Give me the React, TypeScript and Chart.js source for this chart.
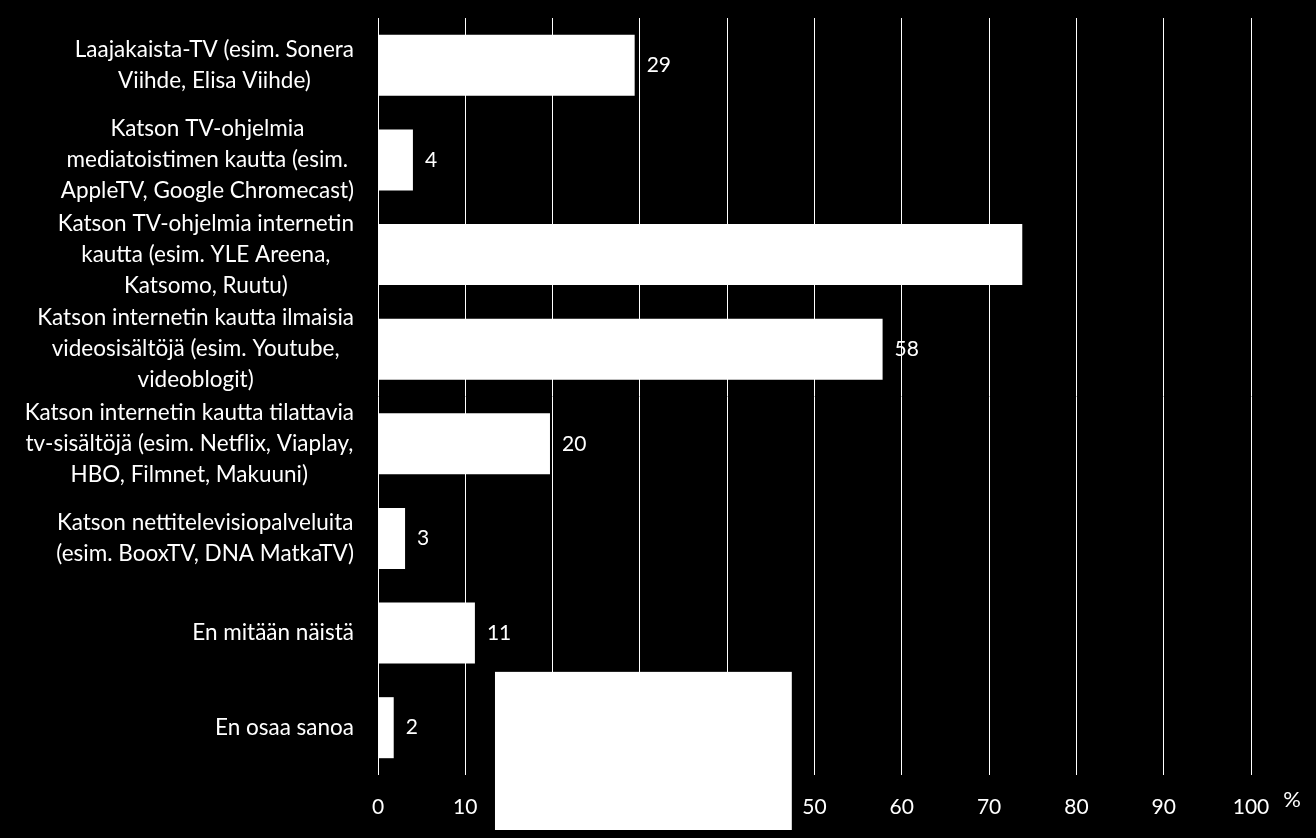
import React, { useEffect, useRef } from "react";
import { Chart, registerables } from "chart.js";

Chart.register(...registerables);

const categories: string[][] = [
  ["Laajakaista-TV (esim. Sonera", "Viihde, Elisa Viihde)"],
  ["Katson TV-ohjelmia", "mediatoistimen kautta (esim.", "AppleTV, Google Chromecast)"],
  ["Katson TV-ohjelmia internetin", "kautta (esim. YLE Areena,", "Katsomo, Ruutu)"],
  ["Katson internetin kautta ilmaisia", "videosisältöjä (esim. Youtube,", "videoblogit)"],
  ["Katson internetin kautta tilattavia", "tv-sisältöjä (esim. Netflix, Viaplay,", "HBO, Filmnet, Makuuni)"],
  ["Katson nettitelevisiopalveluita", "(esim. BooxTV, DNA MatkaTV)"],
  ["En mitään näistä"],
  ["En osaa sanoa"],
];
const values: number[] = [29.4, 4.0, 73.8, 57.8, 19.7, 3.1, 11.1, 1.8];
const valueLabels: (string | null)[] = ["29", "4", null, "58", "20", "3", "11", "2"];
const xTicks: number[] = [0, 10, 20, 30, 40, 50, 60, 70, 80, 90, 100];
const unitLabel = "%";

const FONT = "Lato";

const overlayPlugin = {
  id: "overlay",
  afterDraw(chart: any) {
    const ctx = chart.ctx;
    const area = chart.chartArea;
    const yScale = chart.scales.y;
    const xScale = chart.scales.x;
    ctx.save();
    ctx.fillStyle = "#ffffff";
    ctx.textBaseline = "middle";
    // category labels: block right-aligned, lines centered within block
    ctx.font = `22.5px ${FONT}`;
    const lineH = 31;
    categories.forEach((lines, i) => {
      const cy = yScale.getPixelForValue(i);
      let widest = 0;
      lines.forEach((l) => {
        widest = Math.max(widest, ctx.measureText(l).width);
      });
      const right = area.left - 24;
      const cx = right - widest / 2;
      ctx.textAlign = "center";
      lines.forEach((l, k) => {
        ctx.fillText(l, cx, cy + (k - (lines.length - 1) / 2) * lineH);
      });
    });
    // value labels
    ctx.font = `21px ${FONT}`;
    const meta = chart.getDatasetMeta(0);
    ctx.textAlign = "left";
    meta.data.forEach((bar: any, i: number) => {
      const lab = valueLabels[i];
      if (lab) ctx.fillText(lab, bar.x + 12, bar.y);
    });
    // unit
    ctx.font = `22px ${FONT}`;
    ctx.textAlign = "center";
    ctx.fillText(unitLabel, area.right + 41, area.bottom + 25);
    // white box over bottom area
    const x0 = xScale.getPixelForValue(13.4);
    const x1 = xScale.getPixelForValue(47.4);
    const y0 = yScale.getPixelForValue(6.41);
    ctx.fillRect(x0, y0, x1 - x0, chart.height - 8 - y0);
    ctx.restore();
  },
};

export default function App() {
  const ref = useRef<HTMLCanvasElement>(null);
  useEffect(() => {
    if (!ref.current) return;
    Chart.defaults.font.family = FONT;
    const chart = new Chart(ref.current, {
      type: "bar",
      data: {
        labels: categories.map((c) => c.join(" ")),
        datasets: [
          {
            data: values,
            backgroundColor: "#ffffff",
            borderWidth: 0,
            categoryPercentage: 1,
            barPercentage: 0.645,
          },
        ],
      },
      options: {
        indexAxis: "y",
        animation: false,
        responsive: false,
        maintainAspectRatio: false,
        layout: { padding: { left: 378, right: 65, top: 18, bottom: 0 } },
        plugins: { legend: { display: false }, tooltip: { enabled: false } },
        scales: {
          x: {
            min: 0,
            max: 100,
            afterBuildTicks: (scale: any) => {
              scale.ticks = xTicks.map((v) => ({ value: v }));
            },
            afterFit: (scale: any) => {
              scale.height = 63;
            },
            grid: { color: "#ffffff", lineWidth: 1, drawTicks: false },
            border: { display: false },
            ticks: { color: "#ffffff", font: { size: 21, family: FONT }, padding: 20 },
          },
          y: {
            grid: { display: false },
            border: { display: false },
            ticks: { display: false },
            afterFit: (scale: any) => {
              scale.width = 0;
            },
          },
        },
      },
      plugins: [overlayPlugin],
    } as any);
    return () => chart.destroy();
  }, []);
  return (
    <div style={{ position: "fixed", left: 0, top: 0, width: 1316, height: 838, background: "#000" }}>
      <canvas ref={ref} width={1316} height={838} style={{ display: "block" }} />
    </div>
  );
}
